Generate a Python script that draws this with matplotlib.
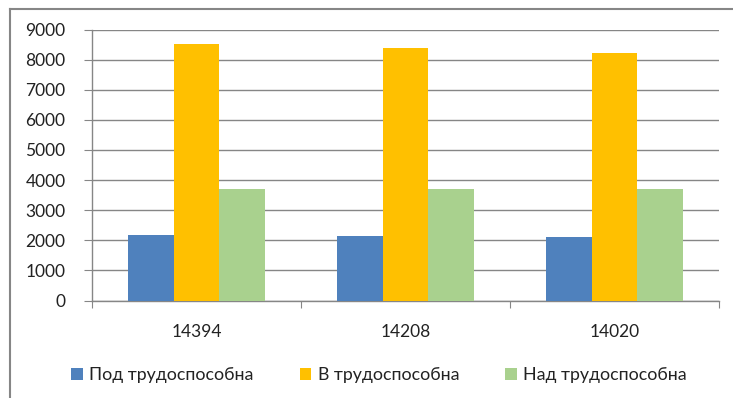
import matplotlib
matplotlib.use("Agg")
import matplotlib.pyplot as plt
import numpy as np
from matplotlib.lines import Line2D
from matplotlib.patches import Patch

# population by age group, one category per total
totals = ["14394", "14208", "14020"]
series_names = ["Под трудоспособна", "В трудоспособна", "Над трудоспособна"]
below_working = [2165, 2130, 2100]
working = [8535, 8390, 8230]
above_working = [3694, 3688, 3690]

colors = ["#4F81BD", "#FFC000", "#A9D18E"]
grid_gray = "#868686"

plt.rcParams["font.family"] = ["Lato", "DejaVu Sans"]

fig = plt.figure(figsize=(7.33, 3.98), dpi=100)
ax = fig.add_axes([92 / 733, 1 - 300.5 / 398, (719 - 92) / 733, 271 / 398])

x = np.arange(len(totals))
width = 0.22
for idx, values in enumerate([below_working, working, above_working]):
    ax.bar(x + (idx - 1) * width, values, width, color=colors[idx],
           label=series_names[idx], zorder=3)

ax.set_xlim(-0.5, len(totals) - 0.5)
ax.set_ylim(0, 9000)
ax.set_yticks(np.arange(0, 9001, 1000))
ax.yaxis.grid(True, color=grid_gray, linewidth=1.0, zorder=0)
ax.tick_params(axis="y", length=6, color=grid_gray, labelsize=12.5, pad=13,
               labelcolor="#222222")

# category labels sit between the boundary ticks
ax.set_xticks(np.arange(-0.5, len(totals)), minor=False)
ax.set_xticklabels([])
ax.set_xticks(x, totals, minor=True)
ax.tick_params(axis="x", which="major", length=5, color=grid_gray)
ax.tick_params(axis="x", which="minor", length=0, labelsize=12.5, pad=17,
               labelcolor="#222222")

for side in ["top", "right"]:
    ax.spines[side].set_visible(False)
for side in ["left", "bottom"]:
    ax.spines[side].set_color(grid_gray)
    ax.spines[side].set_linewidth(1.0)

handles = [Patch(facecolor=c, edgecolor="none") for c in colors]
fig.legend(handles, series_names, loc="center", ncol=3,
           bbox_to_anchor=(379 / 733, 1 - 375 / 398), frameon=False,
           fontsize=12.8, handlelength=0.65, handleheight=0.65,
           handletextpad=0.35, columnspacing=2.6, labelcolor="#222222")

# chart frame, only top and left edges fall inside the canvas
fig.add_artist(Line2D([10 / 733, 10 / 733], [0, 1 - 9 / 398],
                      color=grid_gray, linewidth=1.5))
fig.add_artist(Line2D([10 / 733, 1], [1 - 9 / 398, 1 - 9 / 398],
                      color=grid_gray, linewidth=1.5))

fig.savefig("out.png", dpi=100)
